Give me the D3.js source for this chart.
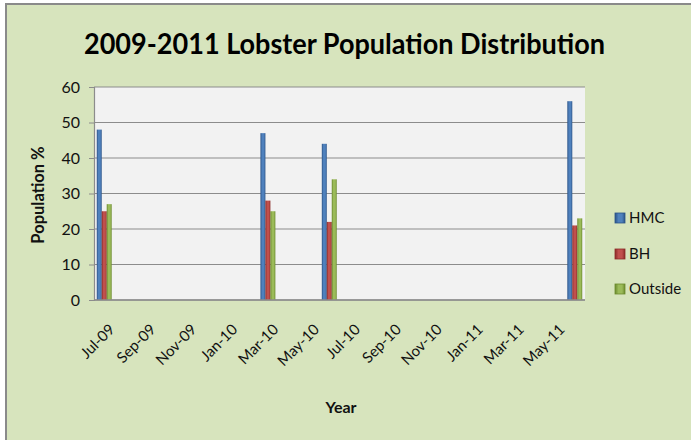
<!DOCTYPE html>
<html>
<head>
<meta charset="utf-8">
<script src="https://cdn.jsdelivr.net/npm/d3@7"></script>
<style>
  html, body { margin: 0; padding: 0; background: #ffffff; }
  svg { display: block; font-family: Lato, "Open Sans", sans-serif; }
</style>
</head>
<body>
<svg id="chart" width="691" height="440"></svg>
<script>
// Monthly categories on the date axis (Jul 2009 – Jun 2011)
const months = ["Jul-09","Aug-09","Sep-09","Oct-09","Nov-09","Dec-09","Jan-10","Feb-10",
  "Mar-10","Apr-10","May-10","Jun-10","Jul-10","Aug-10","Sep-10","Oct-10","Nov-10","Dec-10",
  "Jan-11","Feb-11","Mar-11","Apr-11","May-11","Jun-11"];
// Axis labels shown every second month
const tickLabels = ["Jul-09","Sep-09","Nov-09","Jan-10","Mar-10","May-10","Jul-10",
  "Sep-10","Nov-10","Jan-11","Mar-11","May-11"];
// Survey dates and population share per area
const surveyDates = ["Jul-09","Mar-10","Jun-10","Jun-11"];
const hmc = [48, 47, 44, 56];
const bh = [25, 28, 22, 21];
const outside = [27, 25, 34, 23];
const seriesNames = ["HMC", "BH", "Outside"];
const yTicks = [0, 10, 20, 30, 40, 50, 60];

const colors = { HMC: "#4f81bd", BH: "#c0504d", Outside: "#9bbb59" };
const dark = { HMC: "#2c5488", BH: "#8c2b28", Outside: "#6b8a2e" };

const svg = d3.select("#chart");
const W = 691, H = 440;
const plot = { left: 94, right: 585, top: 87, bottom: 300 };

// Chart background and frame
svg.append("rect").attr("x", 0).attr("y", 0).attr("width", W).attr("height", H).attr("fill", "#ffffff");
svg.append("rect").attr("x", 6).attr("y", 4).attr("width", W).attr("height", H)
  .attr("fill", "#d7e4bd").attr("stroke", "#8a8a8a").attr("stroke-width", 2);

// Gradients for the bevelled bar look
const defs = svg.append("defs");
seriesNames.forEach(s => {
  const g = defs.append("linearGradient").attr("id", "grad-" + s)
    .attr("x1", "0%").attr("x2", "100%").attr("y1", "0%").attr("y2", "0%");
  g.append("stop").attr("offset", "0%").attr("stop-color", dark[s]);
  g.append("stop").attr("offset", "35%").attr("stop-color", colors[s]);
  g.append("stop").attr("offset", "70%").attr("stop-color", colors[s]);
  g.append("stop").attr("offset", "100%").attr("stop-color", dark[s]);
});

const x = d3.scaleBand().domain(months).range([plot.left, plot.right]).padding(0);
const bw = x.bandwidth();
const x1 = d3.scaleBand().domain(seriesNames).range([bw * 0.135, bw * 0.865]).padding(0);
const y = d3.scaleLinear().domain([0, 60]).range([plot.bottom, plot.top]);

// Plot area
svg.append("rect").attr("x", plot.left).attr("y", plot.top)
  .attr("width", plot.right - plot.left).attr("height", plot.bottom - plot.top)
  .attr("fill", "#f2f2f2");

// Horizontal gridlines
svg.append("g").selectAll("line").data(yTicks).join("line")
  .attr("x1", plot.left).attr("x2", plot.right)
  .attr("y1", d => y(d)).attr("y2", d => y(d))
  .attr("stroke", "#8c8c8c").attr("stroke-width", 1.2);

// Y axis
const yAxis = svg.append("g").attr("transform", `translate(${plot.left},0)`)
  .call(d3.axisLeft(y).tickValues(yTicks).tickSize(5).tickPadding(9));
yAxis.select(".domain").attr("stroke", "#8c8c8c").attr("stroke-width", 1.2);
yAxis.selectAll(".tick line").attr("stroke", "#8c8c8c");
yAxis.selectAll("text").attr("font-family", "Lato, sans-serif").attr("font-size", 16)
  .attr("fill", "#111111");

// Bars
const rows = surveyDates.map((d, i) => ({ date: d, HMC: hmc[i], BH: bh[i], Outside: outside[i] }));
const groups = svg.append("g").selectAll("g").data(rows).join("g")
  .attr("transform", d => `translate(${x(d.date)},0)`);
groups.selectAll("rect").data(d => seriesNames.map(s => ({ s, v: d[s] }))).join("rect")
  .attr("x", d => x1(d.s))
  .attr("y", d => y(d.v))
  .attr("width", x1.bandwidth())
  .attr("height", d => y(0) - y(d.v))
  .attr("fill", d => `url(#grad-${d.s})`);

// X axis line
svg.append("line").attr("x1", plot.left).attr("x2", plot.right)
  .attr("y1", plot.bottom).attr("y2", plot.bottom)
  .attr("stroke", "#8c8c8c").attr("stroke-width", 1.5);

// Rotated month labels
svg.append("g").selectAll("text").data(tickLabels).join("text")
  .attr("transform", d => `translate(${x(d) + bw / 2 + 4},${plot.bottom + 23}) rotate(-45)`)
  .attr("text-anchor", "end")
  .attr("dy", "0.7em")
  .attr("font-size", 15)
  .attr("fill", "#111111")
  .text(d => d);

// Title
svg.append("text").attr("x", 84).attr("y", 54)
  .attr("font-weight", "bold").attr("font-size", 29)
  .attr("textLength", 521).attr("lengthAdjust", "spacingAndGlyphs")
  .attr("fill", "#000000")
  .text("2009-2011 Lobster Population Distribution");

// Axis titles
svg.append("text").attr("transform", "translate(44,195) rotate(-90)")
  .attr("text-anchor", "middle").attr("font-weight", "bold").attr("font-size", 16.5)
  .attr("fill", "#111111").text("Population %");
svg.append("text").attr("x", 341).attr("y", 413)
  .attr("text-anchor", "middle").attr("font-weight", "bold").attr("font-size", 16)
  .attr("fill", "#111111").text("Year");

// Legend
const legendY = [218, 254, 289];
const legend = svg.append("g").selectAll("g").data(seriesNames).join("g")
  .attr("transform", (d, i) => `translate(615,${legendY[i]})`);
legend.append("rect").attr("x", 0).attr("y", -5).attr("width", 10).attr("height", 10)
  .attr("fill", d => `url(#grad-${d})`).attr("stroke", d => dark[d]).attr("stroke-width", 0.8);
legend.append("text").attr("x", 14).attr("y", 0).attr("dy", "0.36em")
  .attr("font-size", 15).attr("fill", "#111111").text(d => d);
</script>
</body>
</html>
